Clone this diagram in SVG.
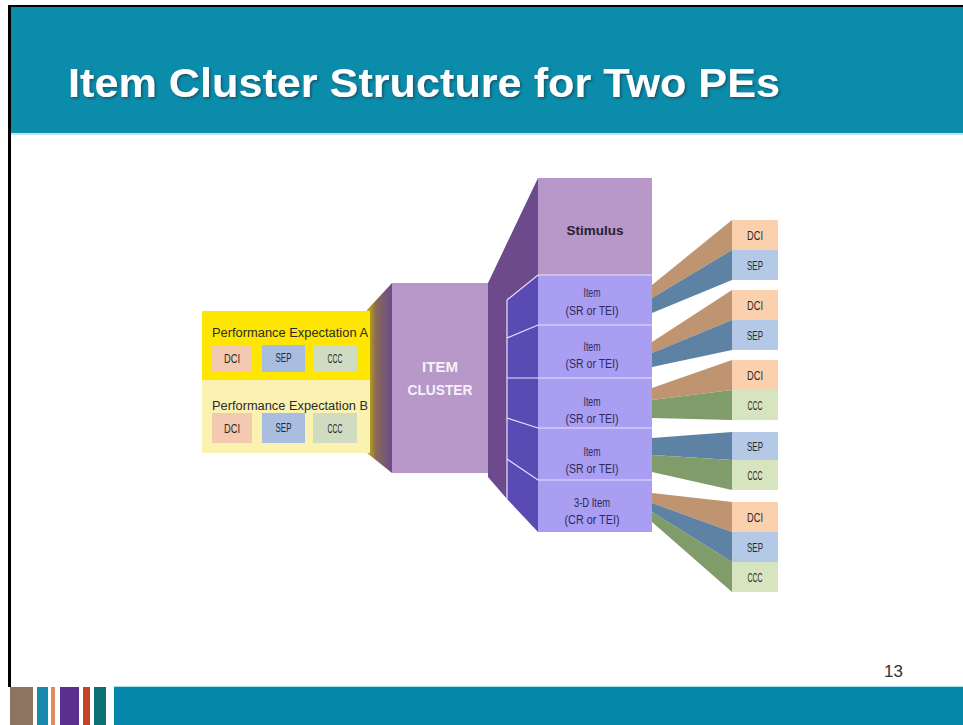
<svg xmlns="http://www.w3.org/2000/svg" width="963" height="725" viewBox="0 0 963 725">
  <defs>
    <style>
      .lbl { font-family: "Liberation Sans", Arial, sans-serif; fill: #2a2a2a; }
      .item { font-family: "Liberation Sans", Arial, sans-serif; fill: #2b2a5e; font-size: 12px; text-anchor: middle; }
      .sep { stroke: #e8e4ff; stroke-width: 1.2; fill: none; }
      .dci { fill: #fbd0ac; }
      .sepb { fill: #b3c9e6; }
      .ccc { fill: #d6e4bf; }
      .bdci { fill: #bf9470; }
      .bsep { fill: #5d82a4; }
      .bccc { fill: #7f9c6a; }
      .small { font-family: "Liberation Sans", Arial, sans-serif; fill: #2a2a2a; font-size: 12px; text-anchor: middle; }
    </style>
    <linearGradient id="peFade" x1="0" y1="0" x2="1" y2="0">
      <stop offset="0" stop-color="#c9b400"/>
      <stop offset="0.35" stop-color="#8a6a55"/>
      <stop offset="1" stop-color="#6c4a8c"/>
    </linearGradient>
    <filter id="shadow" x="-5%" y="-20%" width="110%" height="140%">
      <feDropShadow dx="1.5" dy="1.5" stdDeviation="1" flood-color="#1a3a48" flood-opacity="0.7"/>
    </filter>
  </defs>

  <!-- page frame -->
  <rect x="0" y="0" width="963" height="725" fill="#ffffff"/>
  <rect x="8" y="5" width="955" height="2" fill="#000000"/>
  <rect x="8" y="5" width="3" height="682" fill="#000000"/>

  <!-- header band -->
  <rect x="11" y="7" width="952" height="126" fill="#0b8cab"/>
  <rect x="11" y="133" width="952" height="2" fill="#bfe6ef"/>
  <text x="68" y="97" font-family="'Liberation Sans', Arial, sans-serif" font-weight="bold" font-size="40" fill="#ffffff" textLength="712" lengthAdjust="spacingAndGlyphs" filter="url(#shadow)">Item Cluster Structure for Two PEs</text>

  <!-- footer -->
  <rect x="114" y="686" width="849" height="1.5" fill="#a8e2ef"/>
  <rect x="114" y="687" width="849" height="38" fill="#0688ab"/>
  <rect x="10" y="687" width="23" height="38" fill="#8c7461"/>
  <rect x="37" y="687" width="11" height="38" fill="#1689ad"/>
  <rect x="51" y="687" width="4" height="38" fill="#d9905e"/>
  <rect x="60" y="687" width="19" height="38" fill="#5a2f8f"/>
  <rect x="83" y="687" width="7" height="38" fill="#c8412b"/>
  <rect x="94" y="687" width="12" height="38" fill="#0d6f73"/>
  <text x="884" y="677" font-family="'Liberation Sans', Arial, sans-serif" font-size="17" fill="#333333">13</text>

  <!-- connecting bands -->
  <g id="connectors">
    <!-- PE block into item cluster -->
    <polygon points="367,310 392,283 392,473 367,453" fill="url(#peFade)"/>
    <!-- item cluster into stimulus / items stack -->
    <polygon points="488,283 538,178 538,280 507,300 507,499 488,477" fill="#6c4a8c"/>
    <!-- item 1: DCI + SEP -->
    <polygon class="bdci" points="652,285 732,220 732,250 652,298"/>
    <polygon class="bsep" points="652,298 732,250 732,280 652,313"/>
    <!-- item 2: DCI + SEP -->
    <polygon class="bdci" points="652,342 732,290 732,320 652,353"/>
    <polygon class="bsep" points="652,353 732,320 732,350 652,367"/>
    <!-- item 3: DCI + CCC -->
    <polygon class="bdci" points="652,388 732,360 732,390 652,400"/>
    <polygon class="bccc" points="652,400 732,390 732,420 652,418"/>
    <!-- item 4: SEP + CCC -->
    <polygon class="bsep" points="652,438 732,432 732,460 652,455"/>
    <polygon class="bccc" points="652,455 732,460 732,490 652,472"/>
    <!-- item 5: DCI + SEP + CCC -->
    <polygon class="bdci" points="652,493 732,502 732,532 652,503"/>
    <polygon class="bsep" points="652,503 732,532 732,562 652,512"/>
    <polygon class="bccc" points="652,512 732,562 732,592 652,522"/>
  </g>

  <!-- performance expectations -->
  <g id="pe-a">
    <rect x="202" y="311" width="168" height="69" fill="#ffe600"/>
    <text class="lbl" x="212" y="337" font-size="12" textLength="156" lengthAdjust="spacingAndGlyphs">Performance Expectation A</text>
    <rect x="212" y="345" width="40" height="27" fill="#f4c9b1"/>
    <rect x="262" y="345" width="43" height="27" fill="#a9bde0"/>
    <rect x="313" y="345" width="44" height="27" fill="#cfdcc2"/>
    <text class="small" x="232" y="363" textLength="16" lengthAdjust="spacingAndGlyphs">DCI</text>
    <text class="small" x="283.5" y="362" textLength="16" lengthAdjust="spacingAndGlyphs">SEP</text>
    <text class="small" x="335" y="363" textLength="15" lengthAdjust="spacingAndGlyphs">CCC</text>
  </g>
  <g id="pe-b">
    <rect x="202" y="380" width="168" height="73" fill="#fbf2b2"/>
    <text class="lbl" x="212" y="410" font-size="12" textLength="156" lengthAdjust="spacingAndGlyphs">Performance Expectation B</text>
    <rect x="212" y="413" width="40" height="30" fill="#f4c9b1"/>
    <rect x="262" y="413" width="43" height="30" fill="#a9bde0"/>
    <rect x="313" y="413" width="44" height="30" fill="#cfdcc2"/>
    <text class="small" x="232" y="433" textLength="16" lengthAdjust="spacingAndGlyphs">DCI</text>
    <text class="small" x="283.5" y="432" textLength="16" lengthAdjust="spacingAndGlyphs">SEP</text>
    <text class="small" x="335" y="433" textLength="15" lengthAdjust="spacingAndGlyphs">CCC</text>
  </g>

  <!-- item cluster block -->
  <g id="item-cluster">
    <rect x="392" y="283" width="96" height="190" fill="#b897c9"/>
    <text x="440" y="372" font-family="'Liberation Sans', Arial, sans-serif" font-weight="bold" font-size="15" fill="#f7f0fa" text-anchor="middle" textLength="36" lengthAdjust="spacingAndGlyphs">ITEM</text>
    <text x="440" y="395" font-family="'Liberation Sans', Arial, sans-serif" font-weight="bold" font-size="15" fill="#f7f0fa" text-anchor="middle" textLength="65" lengthAdjust="spacingAndGlyphs">CLUSTER</text>
  </g>

  <!-- stimulus -->
  <g id="stimulus">
    <rect x="538" y="178" width="114" height="97" fill="#b897c9"/>
    <text x="595" y="235" font-family="'Liberation Sans', Arial, sans-serif" font-weight="bold" font-size="13" fill="#2a2030" text-anchor="middle" textLength="57" lengthAdjust="spacingAndGlyphs">Stimulus</text>
  </g>

  <!-- items stack with its receding side face -->
  <g id="items">
    <polygon points="507,300 538,275 538,532 507,499" fill="#5a4ab4"/>
    <rect x="538" y="275" width="114" height="257" fill="#a99ef1"/>
    <path class="sep" d="M507,300 L538,275 L652,275 M507,338 L538,325 L652,325 M507,378 L538,378 L652,378 M507,418 L538,428 L652,428 M507,459 L538,480 L652,480 M507,300 L507,499"/>
  </g>
  <g id="item-1">
    <text class="item" x="592" y="297" textLength="17" lengthAdjust="spacingAndGlyphs">Item</text>
    <text class="item" x="592" y="315" textLength="53" lengthAdjust="spacingAndGlyphs">(SR or TEI)</text>
  </g>
  <g id="item-2">
    <text class="item" x="592" y="351" textLength="17" lengthAdjust="spacingAndGlyphs">Item</text>
    <text class="item" x="592" y="368" textLength="53" lengthAdjust="spacingAndGlyphs">(SR or TEI)</text>
  </g>
  <g id="item-3">
    <text class="item" x="592" y="406" textLength="17" lengthAdjust="spacingAndGlyphs">Item</text>
    <text class="item" x="592" y="423" textLength="53" lengthAdjust="spacingAndGlyphs">(SR or TEI)</text>
  </g>
  <g id="item-4">
    <text class="item" x="592" y="456" textLength="17" lengthAdjust="spacingAndGlyphs">Item</text>
    <text class="item" x="592" y="473" textLength="53" lengthAdjust="spacingAndGlyphs">(SR or TEI)</text>
  </g>
  <g id="item-5">
    <text class="item" x="592" y="507" textLength="36" lengthAdjust="spacingAndGlyphs">3-D Item</text>
    <text class="item" x="592" y="524" textLength="55" lengthAdjust="spacingAndGlyphs">(CR or TEI)</text>
  </g>

  <!-- dimension tags per item -->
  <g id="tags-1">
    <rect class="dci" x="732" y="220" width="46" height="30"/>
    <rect class="sepb" x="732" y="250" width="46" height="30"/>
    <text class="small" x="755" y="240" textLength="16" lengthAdjust="spacingAndGlyphs">DCI</text>
    <text class="small" x="755" y="270" textLength="16" lengthAdjust="spacingAndGlyphs">SEP</text>
  </g>
  <g id="tags-2">
    <rect class="dci" x="732" y="290" width="46" height="30"/>
    <rect class="sepb" x="732" y="320" width="46" height="30"/>
    <text class="small" x="755" y="310" textLength="16" lengthAdjust="spacingAndGlyphs">DCI</text>
    <text class="small" x="755" y="340" textLength="16" lengthAdjust="spacingAndGlyphs">SEP</text>
  </g>
  <g id="tags-3">
    <rect class="dci" x="732" y="360" width="46" height="30"/>
    <rect class="ccc" x="732" y="390" width="46" height="30"/>
    <text class="small" x="755" y="380" textLength="16" lengthAdjust="spacingAndGlyphs">DCI</text>
    <text class="small" x="755" y="410" textLength="15" lengthAdjust="spacingAndGlyphs">CCC</text>
  </g>
  <g id="tags-4">
    <rect class="sepb" x="732" y="432" width="46" height="28"/>
    <rect class="ccc" x="732" y="460" width="46" height="30"/>
    <text class="small" x="755" y="451" textLength="16" lengthAdjust="spacingAndGlyphs">SEP</text>
    <text class="small" x="755" y="480" textLength="15" lengthAdjust="spacingAndGlyphs">CCC</text>
  </g>
  <g id="tags-5">
    <rect class="dci" x="732" y="502" width="46" height="30"/>
    <rect class="sepb" x="732" y="532" width="46" height="30"/>
    <rect class="ccc" x="732" y="562" width="46" height="30"/>
    <text class="small" x="755" y="522" textLength="16" lengthAdjust="spacingAndGlyphs">DCI</text>
    <text class="small" x="755" y="552" textLength="16" lengthAdjust="spacingAndGlyphs">SEP</text>
    <text class="small" x="755" y="582" textLength="15" lengthAdjust="spacingAndGlyphs">CCC</text>
  </g>
</svg>
